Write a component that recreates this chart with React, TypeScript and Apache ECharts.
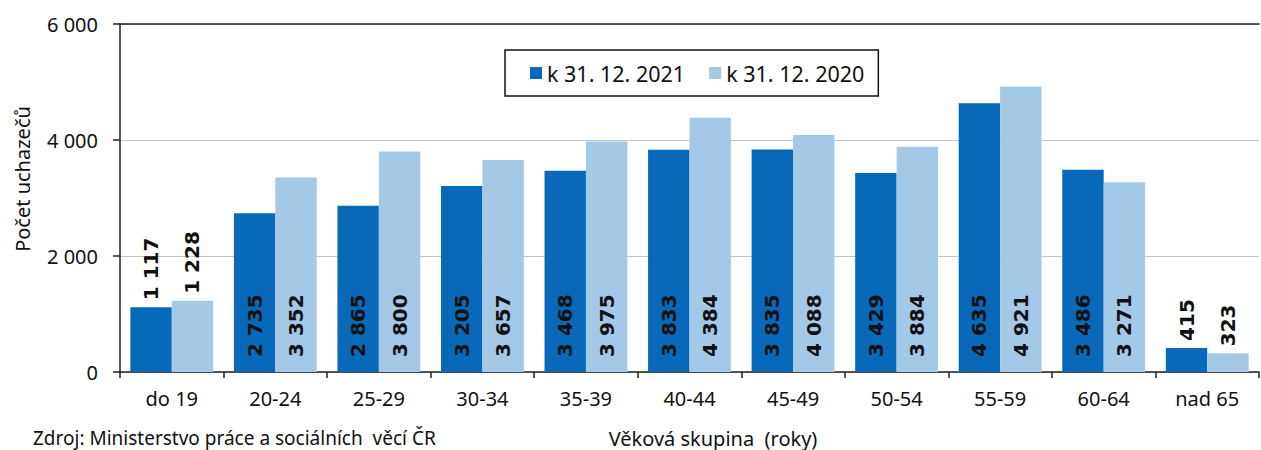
import React, { useEffect, useRef } from "react";
import * as echarts from "echarts";

const categories = ["do 19", "20-24", "25-29", "30-34", "35-39", "40-44", "45-49", "50-54", "55-59", "60-64", "nad 65"];
const values2021 = [1117, 2735, 2865, 3205, 3468, 3833, 3835, 3429, 4635, 3486, 415];
const values2020 = [1228, 3352, 3800, 3657, 3975, 4384, 4088, 3884, 4921, 3271, 323];
const seriesNames = ["k 31. 12. 2021", "k 31. 12. 2020"];
const topLabelCategories = ["do 19", "nad 65"];
const yMin = 0;
const yMax = 6000;
const yInterval = 2000;

const fmt = (v: number) => String(v).replace(/\B(?=(\d{3})+(?!\d))/g, " ");

const FONT = "Noto Sans";

export default function App() {
  const ref = useRef<HTMLDivElement>(null);
  useEffect(() => {
    if (!ref.current) return;
    const chart = echarts.init(ref.current, null, { renderer: "svg" });
    const makeData = (vals: number[]) =>
      vals.map((v, i) =>
        topLabelCategories.includes(categories[i])
          ? { value: v, label: { position: "top", distance: 7 } }
          : { value: v }
      );
    const labelCfg = {
      show: true,
      position: "insideBottom",
      distance: 15,
      rotate: 90,
      align: "left",
      verticalAlign: "middle",
      fontFamily: "DejaVu Sans",
      fontWeight: "bold",
      fontSize: 20,
      color: "#111",
      formatter: (p: any) => fmt(p.value),
    };
    chart.setOption({
      animation: false,
      backgroundColor: "#fff",
      grid: { left: 120, right: 2, top: 24, bottom: 78, containLabel: false },
      legend: {
        left: 505,
        top: 50,
        padding: [12, 14, 12, 25],
        borderColor: "#111",
        borderWidth: 1.5,
        itemWidth: 12,
        itemHeight: 12,
        itemGap: 24,
        icon: "rect",
        textStyle: { fontFamily: FONT, fontSize: 21.5, color: "#111" },
        data: seriesNames,
      },
      xAxis: [
        {
          type: "category",
          data: categories,
          axisLine: { lineStyle: { color: "#222", width: 1.5 } },
          axisTick: { show: true, length: 6, lineStyle: { color: "#222", width: 1.5 } },
          axisLabel: { fontFamily: FONT, fontSize: 20, color: "#111", margin: 16 },
        },
        {
          type: "category",
          position: "top",
          data: categories,
          axisLine: { show: true, lineStyle: { color: "#222", width: 1.5 } },
          axisTick: { show: false },
          axisLabel: { show: false },
        },
      ],
      yAxis: {
        type: "value",
        min: yMin,
        max: yMax,
        interval: yInterval,
        axisLine: { show: true, lineStyle: { color: "#222", width: 1.5 } },
        axisTick: { show: true, length: 7, lineStyle: { color: "#222", width: 1.5 } },
        axisLabel: { fontFamily: FONT, fontSize: 20, color: "#111", margin: 22, formatter: (v: number) => fmt(v) },
        splitLine: { show: true, lineStyle: { color: "#c4c4c4", width: 1 } },
      },
      series: [
        {
          name: seriesNames[0],
          type: "bar",
          data: makeData(values2021),
          barWidth: "40%",
          barGap: "0%",
          itemStyle: { color: "#0769B8" },
          label: labelCfg,
        },
        {
          name: seriesNames[1],
          type: "bar",
          data: makeData(values2020),
          barWidth: "40%",
          barGap: "0%",
          itemStyle: { color: "#A3C9E7" },
          label: labelCfg,
        },
      ],
      graphic: [
        {
          type: "text",
          x: 22,
          y: 179,
          rotation: Math.PI / 2,
          style: { text: "Počet uchazečů", font: `20px "${FONT}"`, fill: "#111", align: "center", verticalAlign: "middle" },
        },
        {
          type: "text",
          x: 713,
          y: 438,
          style: { text: "Věková skupina  (roky)", font: `20px "${FONT}"`, fill: "#111", align: "center", verticalAlign: "middle" },
        },
        {
          type: "text",
          x: 33,
          y: 438,
          style: { text: "Zdroj: Ministerstvo práce a sociálních  věcí ČR", font: `19px "${FONT}"`, fill: "#111", align: "left", verticalAlign: "middle" },
        },
      ],
    });
    return () => chart.dispose();
  }, []);
  return <div ref={ref} style={{ position: "fixed", left: 0, top: 0, width: 1261, height: 450 }} />;
}
